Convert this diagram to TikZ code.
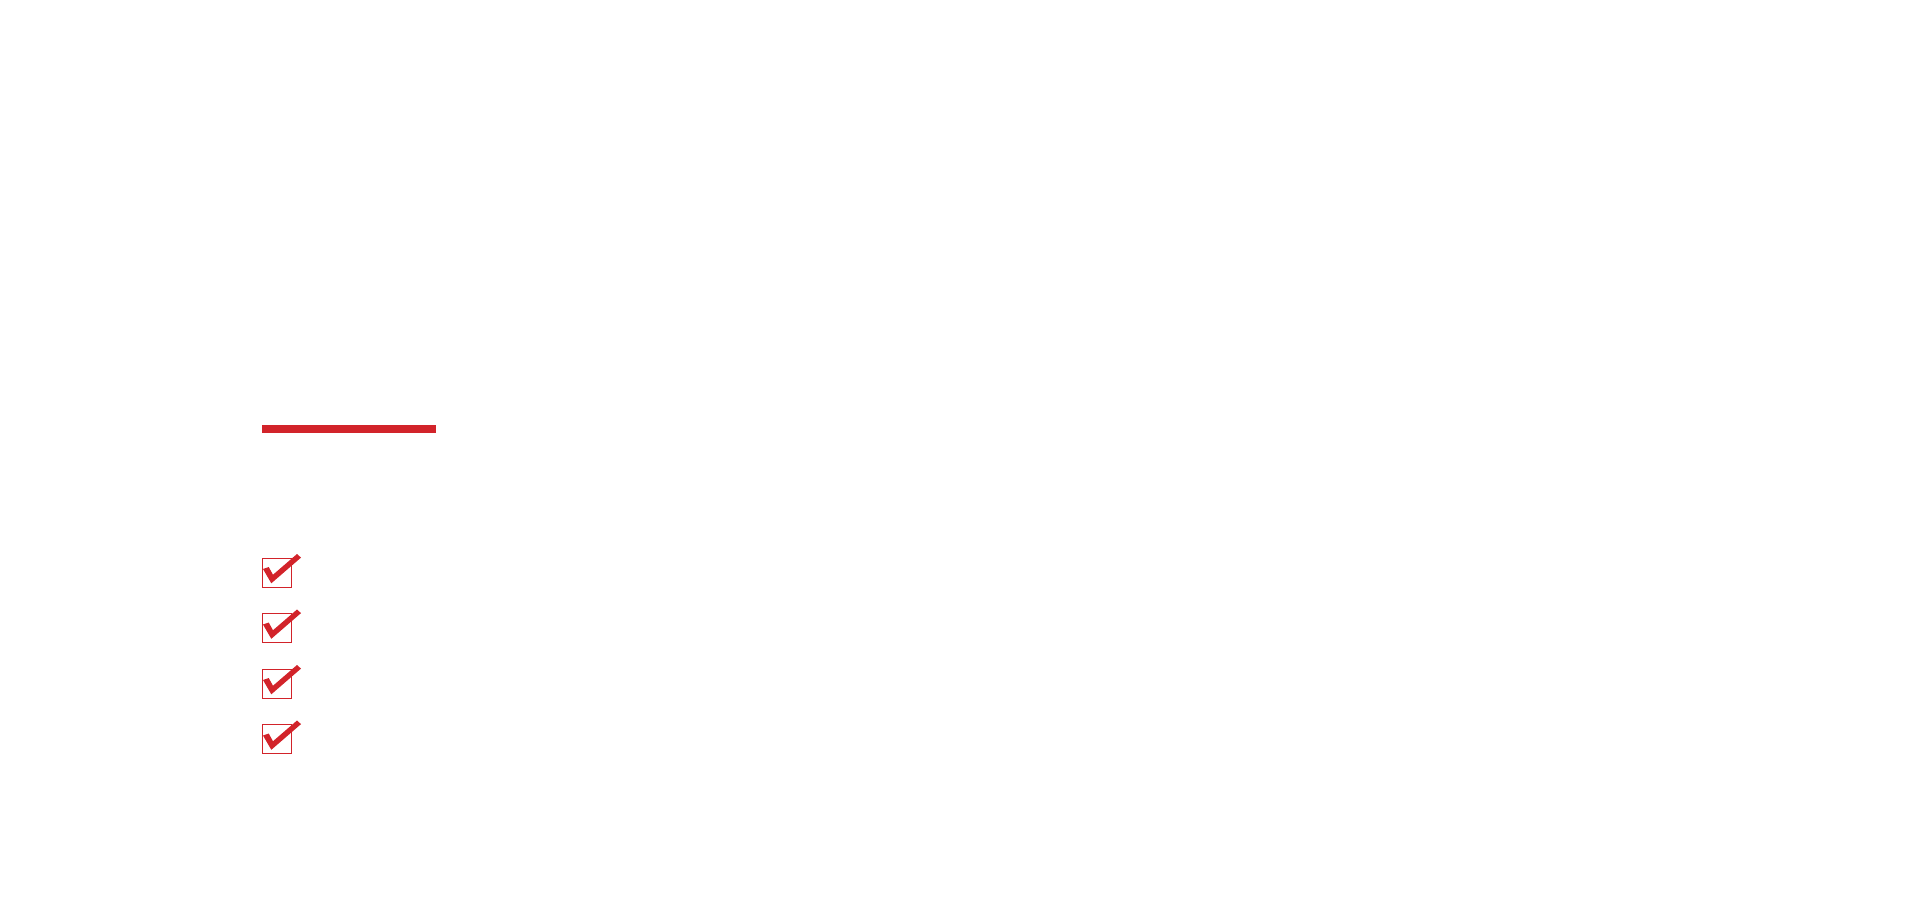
\documentclass[tikz,border=0pt]{standalone}
\definecolor{checkred}{HTML}{D2232A}
\tikzset{
  box/.style={draw=checkred, line width=0.5pt},
  tick/.style={fill=checkred}
}
\begin{document}
\begin{tikzpicture}[x=0.02cm,y=-0.02cm]
  \useasboundingbox (0,0) rectangle (1920,900);
% Heading bar
  \fill[checkred] (262,425) rectangle (436,433);
% Check list
  \foreach \y in {558,613.5,669,724.5} {
    \draw[box] (262,\y) rectangle +(29,29);
    \fill[tick] (262,\y) ++(1,11) -- ++(5.7,-2) -- ++(4.3,7.7) -- ++(24,-20.7)
      -- ++(4,3.6) -- ++(-29.7,25.7) -- cycle;
  }
\end{tikzpicture}
\end{document}
